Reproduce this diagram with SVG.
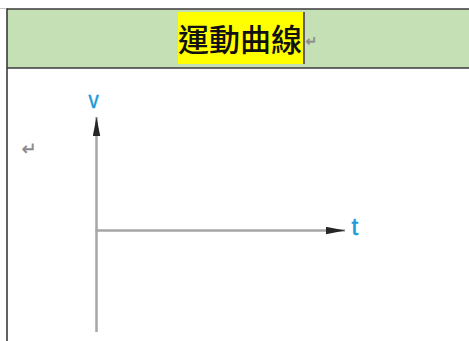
<svg xmlns="http://www.w3.org/2000/svg" width="469" height="341" viewBox="0 0 469 341">
  <style>
    .border { stroke: #3a3a3a; stroke-width: 1.6; fill: none; }
    .axis { stroke: #a6a6a6; stroke-width: 2.5; fill: none; }
    .lbl { font-family: "Liberation Sans", Arial, sans-serif; font-size: 24px; fill: #1a9ad8; stroke: #1a9ad8; stroke-width: 0.5; }
    .pmark { font-family: "DejaVu Sans", sans-serif; fill: #8a8a8a; stroke: #8a8a8a; stroke-width: 0.4; }
    .title { font-family: "Noto Sans CJK TC", "Noto Sans CJK SC", sans-serif; font-size: 31px; font-weight: 500; fill: #111111; }
  </style>
  <defs>
    <marker id="arrow" viewBox="0 0 19 8" refX="19" refY="4" markerWidth="19" markerHeight="8" markerUnits="userSpaceOnUse" orient="auto">
      <path d="M0,0.3 L19,4 L0,7.7 z" fill="#262626"/>
    </marker>
  </defs>
  <rect x="0" y="0" width="469" height="341" fill="#ffffff"/>
  <g id="table">
    <rect x="7" y="9" width="470" height="59" fill="#c5e0b4"/>
    <line class="border" x1="7" y1="9" x2="469" y2="9"/>
    <line class="border" x1="7" y1="68" x2="469" y2="68"/>
    <line class="border" x1="7" y1="8.2" x2="7" y2="341"/>
    <line x1="0" y1="8.5" x2="6" y2="8.5" stroke="#c8c8c8" stroke-width="1"/>
  </g>
  <g id="header">
    <rect x="178" y="12" width="125.5" height="52" fill="#ffff00"/>
    <text class="title" x="178" y="51">運動曲線</text>
    <line x1="304" y1="12" x2="304" y2="64" stroke="#3b3355" stroke-width="1.5"/>
    <text class="pmark" x="305.5" y="46" font-size="14">↵</text>
  </g>
  <text class="pmark" x="21.5" y="155" font-size="18">↵</text>
  <g id="axes">
    <line class="axis" x1="96.5" y1="332" x2="96.5" y2="117" marker-end="url(#arrow)"/>
    <line class="axis" x1="95.5" y1="230.5" x2="345" y2="230.5" marker-end="url(#arrow)"/>
  </g>
  <g id="labels">
    <text class="lbl" x="88.5" y="108" transform="translate(88.5 0) scale(0.85 1) translate(-88.5 0)">v</text>
    <text class="lbl" x="351.5" y="235">t</text>
  </g>
</svg>
